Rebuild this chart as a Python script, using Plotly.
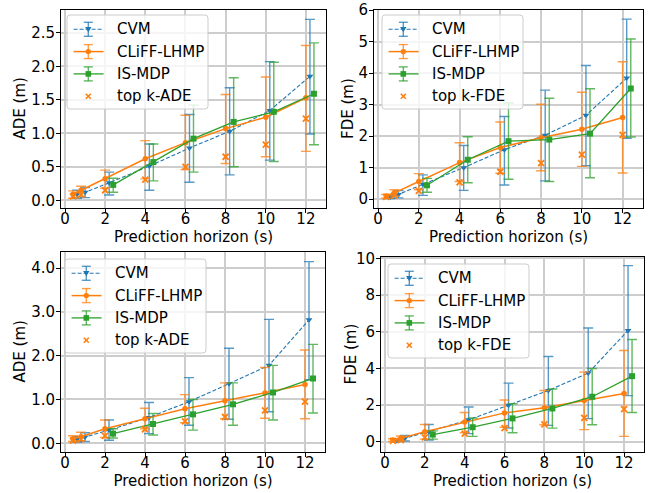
import plotly.graph_objects as go

# ---------------- data ----------------
horizons = [0.4, 0.8, 2, 4, 6, 8, 10, 12]          # CLiFF-LHMP / top-k positions
horizons_is = [2, 4, 6, 8, 10, 12]                  # IS-MDP horizons
x_ticks = [0, 2, 4, 6, 8, 10, 12]
series_names = ["CVM", "CLiFF-LHMP", "IS-MDP"]

# Panel 1 (top-left, ADE)
cvm_ade1 = [0.09, 0.12, 0.26, 0.51, 0.78, 1.03, 1.34, 1.85]
cvm_ade1_lo = [0.03, 0.04, 0.08, 0.15, 0.27, 0.38, 0.60, 0.99]
cvm_ade1_hi = [0.15, 0.19, 0.42, 0.84, 1.28, 1.68, 2.07, 2.70]
cliff_ade1 = [0.09, 0.15, 0.32, 0.62, 0.86, 1.07, 1.24, 1.53]
cliff_ade1_lo = [0.03, 0.06, 0.18, 0.32, 0.46, 0.55, 0.65, 0.73]
cliff_ade1_hi = [0.14, 0.21, 0.45, 0.89, 1.27, 1.58, 1.84, 2.31]
ismdp_ade1 = [0.23, 0.57, 0.92, 1.17, 1.32, 1.59]
ismdp_ade1_lo = [0.12, 0.29, 0.42, 0.50, 0.58, 0.83]
ismdp_ade1_hi = [0.33, 0.84, 1.42, 1.83, 2.06, 2.35]
topk_ade1 = [0.06, 0.08, 0.15, 0.31, 0.50, 0.65, 0.83, 1.22]

# Panel 2 (top-right, FDE)
cvm_fde1 = [0.07, 0.15, 0.47, 1.00, 1.57, 2.03, 2.66, 3.84]
cvm_fde1_lo = [0.02, 0.04, 0.12, 0.28, 0.45, 0.58, 1.06, 1.93]
cvm_fde1_hi = [0.13, 0.27, 0.77, 1.70, 2.62, 3.46, 4.24, 5.71]
cliff_fde1 = [0.10, 0.20, 0.56, 1.16, 1.64, 1.95, 2.22, 2.59]
cliff_fde1_lo = [0.03, 0.10, 0.30, 0.56, 0.82, 0.90, 1.04, 0.83]
cliff_fde1_hi = [0.15, 0.30, 0.81, 1.79, 2.45, 3.01, 3.39, 4.36]
ismdp_fde1 = [0.44, 1.25, 1.84, 1.89, 2.08, 3.51]
ismdp_fde1_lo = [0.22, 0.52, 0.63, 0.56, 0.68, 1.97]
ismdp_fde1_hi = [0.66, 1.98, 3.05, 3.20, 3.50, 5.08]
topk_fde1 = [0.07, 0.12, 0.26, 0.53, 0.87, 1.14, 1.41, 2.04]

# Panel 3 (bottom-left, ADE)
cvm_ade2 = [0.09, 0.14, 0.30, 0.59, 0.95, 1.36, 1.78, 2.82]
cvm_ade2_lo = [0.03, 0.04, 0.07, 0.22, 0.41, 0.55, 0.72, 1.45]
cvm_ade2_hi = [0.15, 0.24, 0.53, 0.93, 1.50, 2.17, 2.83, 4.15]
cliff_ade2 = [0.10, 0.15, 0.33, 0.56, 0.79, 0.97, 1.15, 1.34]
cliff_ade2_lo = [0.04, 0.06, 0.13, 0.33, 0.47, 0.56, 0.57, 0.56]
cliff_ade2_hi = [0.17, 0.25, 0.53, 0.80, 1.11, 1.38, 1.73, 2.13]
ismdp_ade2 = [0.22, 0.44, 0.66, 0.89, 1.16, 1.48]
ismdp_ade2_lo = [0.12, 0.19, 0.30, 0.41, 0.53, 0.69]
ismdp_ade2_hi = [0.33, 0.68, 1.00, 1.38, 1.78, 2.26]
topk_ade2 = [0.06, 0.09, 0.17, 0.32, 0.50, 0.60, 0.75, 0.95]

# Panel 4 (bottom-right, FDE)
cvm_fde2 = [0.07, 0.20, 0.55, 1.20, 2.00, 2.80, 3.75, 6.07]
cvm_fde2_lo = [0.02, 0.05, 0.10, 0.45, 0.76, 0.90, 1.27, 2.52]
cvm_fde2_hi = [0.15, 0.35, 0.95, 1.90, 3.20, 4.65, 6.20, 9.60]
cliff_fde2 = [0.10, 0.20, 0.55, 1.08, 1.58, 1.86, 2.26, 2.63]
cliff_fde2_lo = [0.03, 0.08, 0.15, 0.50, 0.80, 0.93, 0.67, 0.30]
cliff_fde2_hi = [0.17, 0.32, 0.95, 1.60, 2.28, 2.80, 3.80, 4.98]
ismdp_fde2 = [0.40, 0.80, 1.28, 1.82, 2.46, 3.58]
ismdp_fde2_lo = [0.15, 0.30, 0.50, 0.75, 0.93, 1.60]
ismdp_fde2_hi = [0.60, 1.30, 2.08, 2.88, 4.00, 5.58]
topk_fde2 = [0.06, 0.10, 0.25, 0.45, 0.75, 0.96, 1.31, 1.78]

# ---------------- styling ----------------
W, H = 656, 493
BLUE, ORANGE, GREEN = "#1f77b4", "#ff7f0e", "#2ca02c"
BLUE_A, ORANGE_A, GREEN_A = "rgba(31,119,180,0.75)", "rgba(255,127,14,0.75)", "rgba(44,160,44,0.75)"
FONT = "DejaVu Sans"
CVM_OFF, IS_OFF = 0.2, 0.4

panels = [
    dict(cvm=(cvm_ade1, cvm_ade1_lo, cvm_ade1_hi), cliff=(cliff_ade1, cliff_ade1_lo, cliff_ade1_hi),
         ismdp=(ismdp_ade1, ismdp_ade1_lo, ismdp_ade1_hi), topk=topk_ade1, topk_name="top k-ADE",
         ytitle="ADE (m)", ytitle_x=19.5, xdom=(61, 326), ydom=(10, 208), yrange=[-0.115, 2.84],
         ytick=0.5, yfmt=".1f", leg=(67, 15)),
    dict(cvm=(cvm_fde1, cvm_fde1_lo, cvm_fde1_hi), cliff=(cliff_fde1, cliff_fde1_lo, cliff_fde1_hi),
         ismdp=(ismdp_fde1, ismdp_fde1_lo, ismdp_fde1_hi), topk=topk_fde1, topk_name="top k-FDE",
         ytitle="FDE (m)", ytitle_x=348, xdom=(374, 643), ydom=(10, 208), yrange=[-0.28, 6.0],
         ytick=1, yfmt="d", leg=(382, 15)),
    dict(cvm=(cvm_ade2, cvm_ade2_lo, cvm_ade2_hi), cliff=(cliff_ade2, cliff_ade2_lo, cliff_ade2_hi),
         ismdp=(ismdp_ade2, ismdp_ade2_lo, ismdp_ade2_hi), topk=topk_ade2, topk_name="top k-ADE",
         ytitle="ADE (m)", ytitle_x=19.5, xdom=(61, 325), ydom=(252, 452), yrange=[-0.2, 4.37],
         ytick=1.0, yfmt=".1f", leg=(65, 259)),
    dict(cvm=(cvm_fde2, cvm_fde2_lo, cvm_fde2_hi), cliff=(cliff_fde2, cliff_fde2_lo, cliff_fde2_hi),
         ismdp=(ismdp_fde2, ismdp_fde2_lo, ismdp_fde2_hi), topk=topk_fde2, topk_name="top k-FDE",
         ytitle="FDE (m)", ytitle_x=350, xdom=(381, 644), ydom=(257, 452), yrange=[-0.55, 10.07],
         ytick=2, yfmt="d", leg=(388, 264)),
]


def err(vals, lo, hi, color):
    return dict(type="data", symmetric=False,
                array=[h - v for v, h in zip(vals, hi)],
                arrayminus=[v - l for v, l in zip(vals, lo)],
                color=color, thickness=1.4, width=5)


def px(x):
    return x / W


def py(y):
    return 1 - y / H


shapes, annotations = [], []


def pline(x0, y0, x1, y1, color, width, dash="solid"):
    shapes.append(dict(type="line", xref="paper", yref="paper", x0=px(x0), y0=py(y0),
                       x1=px(x1), y1=py(y1), line=dict(color=color, width=width, dash=dash)))


def draw_legend(left, top, topk_name):
    bw, bh, r = 141, 94, 3
    right, bottom = left + bw, top + bh
    path = (f"M {px(left + r)},{py(top)} L {px(right - r)},{py(top)} "
            f"Q {px(right)},{py(top)} {px(right)},{py(top + r)} "
            f"L {px(right)},{py(bottom - r)} Q {px(right)},{py(bottom)} {px(right - r)},{py(bottom)} "
            f"L {px(left + r)},{py(bottom)} Q {px(left)},{py(bottom)} {px(left)},{py(bottom - r)} "
            f"L {px(left)},{py(top + r)} Q {px(left)},{py(top)} {px(left + r)},{py(top)} Z")
    shapes.append(dict(type="path", xref="paper", yref="paper", path=path,
                       fillcolor="rgba(255,255,255,0.8)", line=dict(color="#cccccc", width=1)))
    styles = [(BLUE, BLUE_A, "dash", 1.1, "tri"), (ORANGE, ORANGE_A, "solid", 1.5, "circ"),
              (GREEN, GREEN_A, "solid", 1.3, "sq")]
    labels = series_names + [topk_name]
    mx = left + 21.3
    for k, label in enumerate(labels):
        cy = top + 14.3 + k * 22.3
        if k < 3:
            col, col_a, dash, lw, mk = styles[k]
            pline(left + 6.6, cy, left + 36.6, cy, col, lw, "4px,2px" if dash == "dash" else "solid")
            pline(mx, cy - 7, mx, cy + 7, col_a, 1.4)
            pline(mx - 4.5, cy - 7, mx + 4.5, cy - 7, col_a, 1.4)
            pline(mx - 4.5, cy + 7, mx + 4.5, cy + 7, col_a, 1.4)
            if mk == "circ":
                shapes.append(dict(type="circle", xref="paper", yref="paper", x0=px(mx - 2.7), x1=px(mx + 2.7),
                                   y0=py(cy + 2.7), y1=py(cy - 2.7), fillcolor=col, line=dict(width=0)))
            elif mk == "sq":
                shapes.append(dict(type="rect", xref="paper", yref="paper", x0=px(mx - 2.8), x1=px(mx + 2.8),
                                   y0=py(cy + 2.8), y1=py(cy - 2.8), fillcolor=col, line=dict(width=0)))
            else:
                tri = (f"M {px(mx - 3.2)},{py(cy - 2.2)} L {px(mx + 3.2)},{py(cy - 2.2)} "
                       f"L {px(mx)},{py(cy + 3.0)} Z")
                shapes.append(dict(type="path", xref="paper", yref="paper", path=tri,
                                   fillcolor=col, line=dict(width=0)))
        else:
            pline(mx - 2.5, cy - 2.5, mx + 2.5, cy + 2.5, ORANGE, 1.6)
            pline(mx - 2.5, cy + 2.5, mx + 2.5, cy - 2.5, ORANGE, 1.6)
        annotations.append(dict(text=label, xref="paper", yref="paper", x=px(left + 48.3), y=py(cy),
                                xanchor="left", yanchor="middle", showarrow=False,
                                font=dict(size=15, family=FONT, color="black")))


fig = go.Figure()
layout = dict(width=W, height=H, margin=dict(l=0, r=0, t=0, b=0, autoexpand=False),
              paper_bgcolor="white", plot_bgcolor="white",
              font=dict(family=FONT, size=15, color="black"), showlegend=False)

for i, p in enumerate(panels, start=1):
    sfx = "" if i == 1 else str(i)
    xa, ya = "x" + sfx, "y" + sfx
    cvm_x = [h + CVM_OFF for h in horizons]
    is_x = [h + IS_OFF for h in horizons_is]

    v, lo, hi = p["cvm"]
    fig.add_trace(go.Scatter(x=cvm_x, y=v, name=series_names[0], mode="lines+markers", xaxis=xa, yaxis=ya,
                             line=dict(color=BLUE, width=1.1, dash="4px,2px"),
                             marker=dict(symbol="triangle-down", size=6, color=BLUE),
                             error_y=err(v, lo, hi, BLUE_A)))
    v, lo, hi = p["cliff"]
    fig.add_trace(go.Scatter(x=horizons, y=v, name=series_names[1], mode="lines+markers", xaxis=xa, yaxis=ya,
                             line=dict(color=ORANGE, width=1.5),
                             marker=dict(symbol="circle", size=5.5, color=ORANGE),
                             error_y=err(v, lo, hi, ORANGE_A)))
    v, lo, hi = p["ismdp"]
    fig.add_trace(go.Scatter(x=is_x, y=v, name=series_names[2], mode="lines+markers", xaxis=xa, yaxis=ya,
                             line=dict(color=GREEN, width=1.3),
                             marker=dict(symbol="square", size=6, color=GREEN),
                             error_y=err(v, lo, hi, GREEN_A)))
    fig.add_trace(go.Scatter(x=horizons, y=p["topk"], name=p["topk_name"], mode="markers",
                             xaxis=xa, yaxis=ya,
                             marker=dict(symbol="x-thin", size=6, line=dict(color=ORANGE, width=1.8),
                                         color=ORANGE)))

    x0, x1 = p["xdom"]
    yt, yb = p["ydom"]
    axis_common = dict(showline=True, linecolor="black", linewidth=1, mirror=True,
                       ticks="outside", ticklen=4, tickwidth=1, tickcolor="black",
                       showgrid=True, gridcolor="#cdcdcd", gridwidth=1.6, zeroline=False,
                       automargin=False,
                       tickfont=dict(size=15, family=FONT, color="black"))
    layout["xaxis" + sfx] = dict(domain=[x0 / W, x1 / W], anchor=ya, range=[-0.2, 13.0],
                                 tickmode="array", tickvals=x_ticks, ticklabelstandoff=-7,
                                 title=dict(text="Prediction horizon (s)", standoff=4,
                                            font=dict(size=15, family=FONT)),
                                 **axis_common)
    layout["yaxis" + sfx] = dict(domain=[1 - yb / H, 1 - yt / H], anchor=xa, range=p["yrange"],
                                 dtick=p["ytick"], tick0=0, tickformat=p["yfmt"], ticklabelstandoff=-2,
                                 **axis_common)
    annotations.append(dict(text=p["ytitle"], xref="paper", yref="paper", x=px(p["ytitle_x"]),
                            y=py((yt + yb) / 2), xanchor="center", yanchor="middle", textangle=-90,
                            showarrow=False, font=dict(size=15, family=FONT, color="black")))
    lx, ly = p["leg"]
    draw_legend(lx, ly, p["topk_name"])

layout["shapes"] = shapes
layout["annotations"] = annotations
fig.update_layout(**layout)
fig.write_html("out.html", config={"displayModeBar": False},
               post_script="document.body.style.margin='0';document.body.style.padding='0';"
                           "document.body.style.overflow='hidden';")
